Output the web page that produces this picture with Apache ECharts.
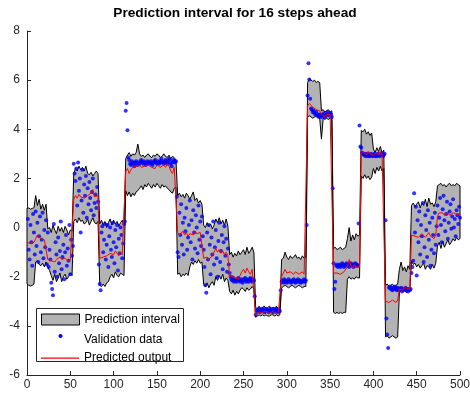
<!DOCTYPE html>
<html>
<head>
<meta charset="utf-8">
<script src="https://cdn.jsdelivr.net/npm/echarts@6/dist/echarts.min.js"></script>
<style>
  html, body { margin: 0; padding: 0; background: #fff; }
  #chart { width: 470px; height: 397px; }
</style>
</head>
<body>
<div id="chart"></div>
<script>
// Axis ranges and ticks
const xRange = [0, 500], xStep = 50;
const yRange = [-6, 8], yStep = 2;

// Prediction band and predicted output, sampled every 2 steps.
// Each run starts at the sample given in bandStarts.
const bandStarts = [0, 54, 84, 114, 174, 204, 234, 264, 294, 324, 354, 386, 414, 444];

const upperRuns = [
  [0.78, 0.8, 0.75, 0.78, 0.8, 1.3, 0.9, 1.15, 0.75, 0.95, 0.7, 0.95, -0.05, 0.0, -0.2, 0.1, -0.1, -0.25, 0.05, -0.15, 0.0, -0.2, 0.05, -0.1, -0.3, -0.1, -0.15],
  [2.2, 2.4, 2.3, 2.5, 2.35, 2.45, 2.3, 2.5, 2.2, 2.15, 2.25, 2.1, 2.2, 2.3, 2.2],
  [0.15, 0.3, 0.1, 0.25, 0.0, 0.2, 0.35, 0.1, 0.3, 0.15, 0.25, 0.05, 0.2, 0.3, 0.1],
  [2.8, 2.95, 3.05, 2.9, 3.0, 2.95, 3.05, 3.4, 3.0, 2.9, 2.95, 2.85, 2.95, 3.0, 2.9, 2.85, 2.95, 2.9, 3.0, 2.95, 2.85, 2.9, 3.0, 2.9, 2.85, 2.95, 2.8, 2.9, 2.85, 2.75],
  [1.3, 1.4, 1.25, 1.35, 1.2, 1.4, 1.3, 1.15, 1.3, 1.45, 1.1, 1.2, 1.0, 1.1, 0.95],
  [0.1, 0.0, 0.2, 0.05, 0.15, -0.05, 0.1, 0.35, 0.2, 0.4, 0.15, 0.3, 0.1, 0.35, 0.05],
  [-1.1, -1.0, -1.2, -1.05, -1.15, -0.95, -1.1, -1.0, -0.9, -1.1, -0.8, -1.05, -0.95, -0.8, -1.0],
  [-3.25, -3.3, -3.2, -3.3, -3.25, -3.2, -3.3, -3.25, -3.2, -3.3, -3.25, -3.3, -3.2, -3.3, -3.25],
  [-1.3, -1.25, -1.0, -1.2, -1.3, -1.15, -1.25, -1.2, -1.1, -1.25, -1.2, -1.3, -1.15, -1.25, -1.2],
  [5.9, 6.05, 6.0, 5.95, 6.0, 5.9, 5.95, 5.9, 4.75, 4.8, 4.7, 4.75, 4.8, 4.7, 4.75],
  [-0.85, -0.8, -0.9, -0.85, -0.8, -0.9, -0.85, -0.8, -0.45, 0.0, -0.55, -0.3, -0.5, -0.25, -0.35, -0.3],
  [3.95, 3.9, 4.0, 3.8, 3.9, 3.75, 3.85, 3.2, 3.05, 3.25, 3.1, 3.3, 3.05, 3.15],
  [-2.35, -2.3, -2.4, -2.35, -2.3, -2.4, -2.35, -2.3, -1.7, -1.4, -1.75, -1.6, -1.8, -1.55, -1.7],
  [0.9, 1.0, 0.85, 0.95, 1.05, 0.8, 1.0, 0.9, 1.15, 0.85, 1.2, 0.95, 1.0, 0.85, 1.05, 1.7, 1.75, 1.8, 1.7, 1.75, 1.65, 1.75, 1.8, 1.7, 1.75, 1.7, 1.8, 1.75, 1.7]
];

const predictedRuns = [
  [-0.6, -0.62, -0.65, -0.62, -0.6, -0.45, -0.3, -0.35, -0.45, -0.4, -0.5, -0.45, -1.3, -1.25, -1.35, -1.3, -1.4, -1.3, -1.25, -1.2, -1.3, -1.35, -1.25, -1.3, -1.4, -1.3, -1.25],
  [1.15, 1.3, 1.2, 1.35, 1.25, 1.3, 1.2, 1.15, 1.3, 1.25, 1.4, 1.55, 1.25, 1.2, 1.3],
  [-1.25, -1.3, -1.2, -1.25, -1.15, -1.2, -1.05, -1.0, -1.1, -0.95, -1.05, -1.15, -1.0, -1.1, -1.05],
  [2.3, 2.4, 2.2, 2.35, 2.45, 2.4, 2.5, 2.45, 2.55, 2.45, 2.4, 2.5, 2.45, 2.55, 2.5, 2.45, 2.5, 2.4, 2.55, 2.5, 2.45, 2.5, 2.55, 2.45, 2.6, 2.5, 2.3, 2.2, 2.45, 2.5],
  [-0.2, -0.3, -0.25, -0.15, -0.3, -0.2, -0.35, -0.25, -0.2, -0.3, -0.15, -0.25, -0.3, -0.2, -0.25],
  [-1.25, -1.3, -1.2, -1.3, -1.25, -1.15, -1.2, -0.85, -1.0, -0.9, -1.05, -0.95, -1.1, -1.0, -1.15],
  [-2.0, -2.05, -1.95, -2.05, -2.0, -2.1, -1.95, -1.8, -1.7, -1.85, -1.65, -1.8, -1.9, -1.7, -1.75],
  [-3.55, -3.5, -3.45, -3.5, -3.45, -3.5, -3.4, -3.45, -3.5, -3.45, -3.4, -3.5, -3.45, -3.5, -3.45],
  [-2.0, -1.95, -1.7, -1.85, -1.9, -1.8, -1.85, -1.9, -1.8, -1.85, -1.9, -1.85, -1.8, -1.9, -1.85],
  [4.95, 5.05, 5.0, 4.9, 4.85, 4.8, 4.85, 4.75, 4.6, 4.55, 4.5, 4.6, 4.55, 4.6, 4.55],
  [-1.85, -1.9, -1.85, -1.8, -1.9, -1.85, -1.8, -1.85, -1.6, -1.3, -1.55, -1.65, -1.5, -1.6, -1.55, -1.6],
  [3.0, 3.1, 3.05, 2.95, 3.1, 3.0, 3.05, 2.95, 2.9, 3.05, 2.95, 3.1, 2.95, 3.0],
  [-3.0, -2.95, -3.05, -3.0, -2.95, -3.0, -3.05, -2.95, -2.5, -2.45, -2.55, -2.4, -2.5, -2.45, -2.5],
  [-0.3, -0.25, -0.35, -0.3, -0.4, -0.35, -0.25, -0.3, -0.4, -0.3, -0.2, -0.35, -0.3, -0.45, -0.3, 0.45, 0.6, 0.55, 0.6, 0.5, 0.55, 0.6, 0.5, 0.55, 0.6, 0.65, 0.55, 0.6, 0.55]
];

const lowerRuns = [
  [-2.3, -2.35, -2.38, -2.35, -2.3, -1.4, -1.35, -1.5, -1.55, -1.45, -1.6, -1.4, -1.6, -1.75, -1.95, -2.15, -1.9, -2.2, -2.05, -1.85, -2.2, -2.0, -1.9, -2.1, -2.0, -1.85, -1.95],
  [0.25, 0.35, 0.2, 0.4, 0.25, 0.3, 0.15, 0.2, 0.35, 0.1, 0.25, 0.4, 0.2, 0.15, 0.25],
  [-2.35, -2.4, -2.3, -2.4, -2.25, -2.2, -2.0, -1.9, -2.05, -1.8, -1.95, -2.0, -1.85, -1.9, -1.95],
  [1.5, 1.3, 1.45, 1.25, 1.4, 1.3, 1.45, 1.5, 1.6, 1.7, 1.55, 1.75, 1.65, 1.8, 1.7, 1.6, 1.75, 1.65, 1.8, 1.7, 1.6, 1.75, 1.65, 1.7, 1.6, 1.55, 1.45, 1.4, 1.6, 1.65],
  [-1.9, -1.85, -2.0, -1.9, -1.95, -1.85, -1.95, -1.6, -1.4, -1.5, -1.35, -1.45, -1.3, -1.45, -1.4],
  [-2.3, -2.4, -2.25, -2.45, -2.3, -2.2, -2.35, -2.0, -2.15, -1.95, -2.1, -1.9, -2.2, -2.05, -2.15],
  [-2.6, -2.7, -2.55, -2.75, -2.6, -2.7, -2.55, -2.45, -2.5, -2.6, -2.45, -2.55, -2.5, -2.4, -2.5],
  [-3.65, -3.6, -3.55, -3.6, -3.55, -3.6, -3.55, -3.6, -3.6, -3.55, -3.55, -3.6, -3.55, -3.6, -3.55],
  [-2.45, -2.4, -2.35, -2.4, -2.45, -2.4, -2.35, -2.4, -2.45, -2.4, -2.35, -2.4, -2.45, -2.4, -2.4],
  [4.5, 4.55, 4.5, 4.45, 4.5, 4.55, 4.5, 4.45, 3.6, 4.45, 4.4, 4.45, 4.4, 4.45, 4.4],
  [-3.45, -3.5, -3.45, -3.5, -3.45, -3.5, -3.45, -3.45, -2.1, -2.0, -2.1, -2.05, -2.1, -2.0, -2.05, -2.05],
  [2.1, 2.0, 2.15, 2.0, 2.1, 1.95, 2.05, 2.4, 2.2, 2.45, 2.3, 2.5, 2.3, 2.4],
  [-4.45, -4.4, -4.5, -4.45, -4.4, -4.45, -4.5, -4.45, -2.65, -2.55, -2.6, -2.5, -2.65, -2.55, -2.6],
  [-1.35, -1.5, -1.45, -1.6, -1.5, -1.65, -1.55, -1.45, -1.7, -1.55, -1.6, -1.7, -1.5, -1.65, -1.45, -0.75, -0.6, -0.85, -0.55, -0.8, -0.65, -0.5, -0.7, -0.6, -0.45, -0.55, -0.4, -0.5, -0.45]
];

// Validation data, one value per sample; each run starts at the sample in validationStarts.
const validationStarts = [1, 54, 83, 113, 173, 204, 233, 264, 293, 323, 353, 383, 414, 444];

const validationRuns = [
  [0.35, -0.9, -1.3, 0.1, -0.6, -1.55, 0.55, -0.2, -1.1, 0.65, -0.75, 0.2, -1.4, -0.35, 0.45, -1.0, -0.5, 0.6, -1.25, -0.1, -0.8, 0.3, -1.5,
   -0.2, -1.6, -0.9, -1.3, -2.25, -2.5, -2.75, 0.15, -1.8, -0.6, -1.1, -2.0, -0.4, -1.45, -0.95, 0.25, -1.7, -1.2, -0.7, -2.1, -1.0, -0.3, -1.55, -0.85, -1.35, 0.1, -1.9, -0.5, -1.15, -0.75],
  [2.6, 2.2, 1.9, 2.4, 0.9, 2.65, 1.5, 2.0, -0.2, 1.1, 2.35, 0.6, 1.75, 1.3, 2.1, 0.4, 1.6, 0.95, 1.85, 1.2, 0.7, 1.45, 2.0, 0.5, 1.0, 1.35, 0.8, 1.65, 1.05],
  [-1.5, -2.3, -2.55, -0.2, 0.05, -1.0, -0.5, 0.15, -1.3, -0.7, 0.1, -1.6, -0.35, 0.0, -0.9, -1.2, 0.2, -0.6, -1.45, -0.1, -0.8, 0.1, -1.75, -0.45, -1.05, 0.0, -0.3, -1.25, -0.65, 0.15],
  [0.25, 4.75, 5.07, 3.96, 2.85, 2.75,
   2.6, 2.55, 2.7, 2.65, 2.6, 2.5, 2.65, 2.7, 2.6,
   2.55, 2.65, 2.6, 2.7, 2.75, 2.65, 2.6, 2.7, 2.65,
   2.55, 2.6, 2.7, 2.65, 2.6, 2.65, 2.7, 2.6, 2.55,
   2.65, 2.7, 2.75, 2.65, 2.6, 2.7, 2.65, 2.6, 2.7,
   2.8, 2.65, 2.7, 2.6, 2.65, 2.75, 2.7, 2.6, 2.65,
   2.8, 2.75, 2.6, 2.5, 2.65, 2.75, 2.7, 2.65, 2.7],
  [1.25, -1.0, -1.2, 0.6, -0.3, 0.95, -0.7, 0.2, -1.1, 0.4, -0.15, 0.8, -0.9, -0.4, 0.1, 1.1, -0.6, 0.3, -1.3, 0.7, -0.2, -0.85, 0.5, 0.0, -1.05, 0.9, -0.5, 0.25, -0.75, 0.45, -0.35],
  [-0.9, -1.6, -2.35, -2.65, -0.2, -1.3, 0.1, -0.7, -1.9, -0.4, -1.1, 0.25, -1.5, -0.8, -0.1, -1.25, -2.0, -0.55, 0.2, -1.4, -0.95, -0.3, -1.7, -0.6, 0.05, -1.15, -0.45, -1.8, -0.85],
  [-1.5, -1.85, -2.0, -2.1, -2.15, -2.05, -2.2, -2.1, -2.15, -2.2, -2.1, -2.05, -2.15, -2.2, -2.1, -2.15, -2.25, -2.1, -2.15, -2.05, -2.2, -2.1, -2.15, -2.2, -2.1, -2.05, -2.15, -2.2, -2.1, -2.15, -2.8],
  [-3.55, -3.4, -3.35, -3.4, -3.3, -3.45, -3.35, -3.4, -3.3, -3.35, -3.45, -3.4, -3.3, -3.35, -3.4, -3.45, -3.35, -3.3, -3.4, -3.35, -3.45, -3.3, -3.4, -3.35, -3.3, -3.4, -3.45, -3.35, -3.4],
  [-2.55, -2.2, -2.15, -2.25, -2.1, -2.2, -2.15, -2.25, -2.2, -2.1, -2.2, -2.15, -2.25, -2.2, -2.15, -2.1, -2.2, -2.25, -2.15, -2.2, -2.1, -2.2, -2.15, -2.25, -2.2, -2.15, -2.2, -2.1, -2.2, -2.15],
  [0.1, 5.38, 6.69, 6.03, 5.24, 4.85, 4.8, 4.7, 4.75, 4.65, 4.6, 4.7, 4.55, 4.6, 4.5, 4.6, 4.55, 4.5, 4.6, 4.55, 4.65, 4.5, 4.55, 4.6, 4.7, 4.6, 4.55, 4.65, 4.6, 4.5],
  [1.6, -1.45, -2.5, -2.2, -1.55, -1.5, -1.6, -1.55, -1.5, -1.6, -1.55, -1.45, -1.5, -1.6, -1.55, -1.5, -1.45, -1.55, -1.5, -1.6, -1.5, -1.45, -1.55, -1.5, -1.6, -1.5, -1.45, -1.55, -1.5, -1.55],
  [0.17, 4.15, 3.3, 3.25, 3.05, 3.0, 2.95, 3.0, 2.9, 2.95, 3.0, 2.9, 2.95, 2.9, 3.0, 2.95, 2.9, 2.95, 3.0, 2.9, 2.95, 2.9, 3.0, 2.95, 2.9, 2.95, 3.0, 2.95, 2.9, 2.95, 3.0],
  [0.3, -3.7, -4.35, -4.9, -2.45, -2.4, -2.5, -2.45, -2.55, -2.5, -2.45, -2.4, -2.5, -2.55, -2.45, -2.5, -2.55, -2.5, -2.45, -2.6, -2.5, -2.55, -2.5, -2.45, -2.55, -2.5, -2.6, -2.5, -2.55, -2.5],
  [-1.85, -1.6, -1.35, 1.4, -0.2, 0.85, -1.95, 0.3, -0.6, 0.65, -1.1, 0.1, -0.35, 1.0, -1.4, -0.8, 0.5, -0.1, -1.2, 0.7, -0.5, 0.2, -1.55, -0.9, 0.4, -0.3, -1.05, 0.6, -0.7, 0.05,
   0.9, -0.3, 0.4, 1.2, 0.1, -0.6, 0.75, 1.3, 0.3, -0.15, 0.55, 1.05, -0.45, 0.2, 0.65, 0.95, -0.05, 0.45, 1.15, 0.0, 0.35, -0.35, 0.7, 0.5, 0.15, 0.85, 0.4]
];

const labels = {
  title: 'Prediction interval for 16 steps ahead',
  band: 'Prediction interval',
  validation: 'Validation data',
  predicted: 'Predicted output'
};

// Expand the runs into plain series data.
const bandX = [], bandUpper = [], bandLower = [], predicted = [];
bandStarts.forEach((start, r) => {
  upperRuns[r].forEach((u, k) => {
    const x = start + 2 * k;
    bandX.push(x);
    bandUpper.push(u);
    bandLower.push(lowerRuns[r][k]);
    predicted.push([x, predictedRuns[r][k]]);
  });
});
const validation = [];
validationStarts.forEach((start, r) => {
  validationRuns[r].forEach((v, k) => validation.push([start + k, v]));
});

const FONT = '"Liberation Sans", Arial, Helvetica, sans-serif';
const AXIS = '#262626';
const BLUE = '#0000ff';

// Filled band: upper edge forward, lower edge back, mapped through the axes.
function renderBand(params, api) {
  const pts = [];
  for (let i = 0; i < bandX.length; i++) pts.push(api.coord([bandX[i], bandUpper[i]]));
  for (let i = bandX.length - 1; i >= 0; i--) pts.push(api.coord([bandX[i], bandLower[i]]));
  return {
    type: 'polygon',
    shape: { points: pts },
    style: { fill: '#b3b3b3', stroke: '#000', lineWidth: 1 }
  };
}

const axisCommon = {
  type: 'value',
  axisLine: { show: true, onZero: false, lineStyle: { color: AXIS, width: 1 } },
  axisTick: { show: true, inside: true, length: 4, lineStyle: { color: AXIS, width: 1 } },
  splitLine: { show: false },
  minorTick: { show: false }
};

const legendCommon = {
  left: 41, padding: 0, itemWidth: 38, orient: 'vertical',
  selectedMode: false, z: 6,
  textStyle: { fontFamily: FONT, fontSize: 12, color: '#000' }
};

const chart = echarts.init(document.getElementById('chart'), null, { renderer: 'canvas' });
chart.setOption({
  animation: false,
  backgroundColor: '#fff',
  title: {
    text: labels.title, left: 'center', top: 6, padding: 0,
    textStyle: { fontFamily: FONT, fontSize: 13.7, fontWeight: 'bold', color: '#000' }
  },
  grid: { left: 27, right: 10, top: 31, bottom: 22, containLabel: false, outerBoundsMode: 'none' },
  xAxis: Object.assign({}, axisCommon, {
    min: xRange[0], max: xRange[1], interval: xStep,
    axisLabel: { color: AXIS, fontFamily: FONT, fontSize: 12, margin: 4 }
  }),
  yAxis: Object.assign({}, axisCommon, {
    min: yRange[0], max: yRange[1], interval: yStep,
    axisLabel: { color: AXIS, fontFamily: FONT, fontSize: 12, margin: 7 }
  }),
  legend: [
    Object.assign({}, legendCommon, {
      top: 313.5, itemHeight: 11,
      data: [{ name: labels.band, icon: 'rect', itemStyle: { color: '#b3b3b3', borderColor: '#000', borderWidth: 1 } }]
    }),
    // the dot marker for this entry is drawn as a graphic circle below
    Object.assign({}, legendCommon, {
      top: 333.8, itemHeight: 4.5,
      data: [{ name: labels.validation, icon: 'rect', itemStyle: { color: 'rgba(0,0,0,0)', borderWidth: 0 } }]
    }),
    Object.assign({}, legendCommon, {
      top: 352.1, itemHeight: 1.2,
      data: [{ name: labels.predicted, icon: 'rect', itemStyle: { color: '#ff0000' } }]
    })
  ],
  graphic: [
    {
      type: 'rect', z: 5,
      shape: { x: 36.5, y: 308.5, width: 147, height: 53 },
      style: { fill: '#fff', stroke: AXIS, lineWidth: 1 }
    },
    {
      type: 'circle', z: 7,
      shape: { cx: 60.5, cy: 336, r: 2.1 },
      style: { fill: BLUE }
    }
  ],
  series: [
    {
      type: 'custom', name: labels.band, coordinateSystem: 'cartesian2d',
      data: [[250, 0]], renderItem: renderBand, silent: true, z: 1,
      itemStyle: { color: '#b3b3b3' }
    },
    {
      type: 'scatter', name: labels.validation, data: validation,
      symbol: 'circle', symbolSize: 4, silent: true, z: 2,
      itemStyle: { color: BLUE }
    },
    {
      type: 'line', name: labels.predicted, data: predicted,
      symbol: 'none', showSymbol: false, silent: true, z: 3,
      lineStyle: { color: '#ff0000', width: 1 },
      itemStyle: { color: '#ff0000' }
    }
  ]
});
</script>
</body>
</html>
